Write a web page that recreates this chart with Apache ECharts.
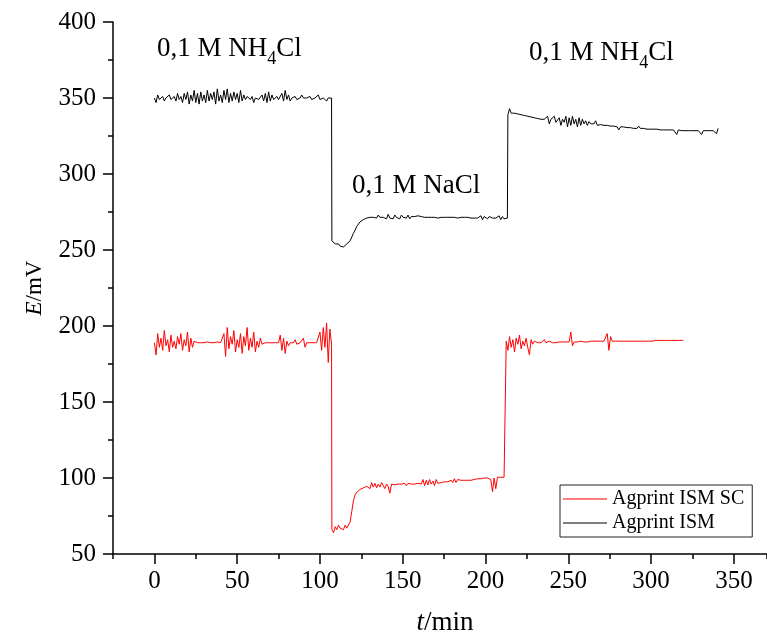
<!DOCTYPE html>
<html>
<head>
<meta charset="utf-8">
<script src="https://cdn.jsdelivr.net/npm/echarts@6/dist/echarts.min.js"></script>
<style>
html,body{margin:0;padding:0;background:#fff;}
#chart{width:767px;height:635px;}
</style>
</head>
<body>
<div id="chart"></div>
<script>
// ---------- DATA ----------
const xTickValues = [0, 50, 100, 150, 200, 250, 300, 350];
const yRange = [50, 400];
const xRange = [-25, 370];

// Agprint ISM (black): segment start times (min), step 1 min, potentials (mV)
const ismSeg1Start = 0;
const ismSeg1 = [
  350,347,352,349,350,351,348,350,350,352,
  349,350,351,348,353,349,351,347,353,349,
  354,346,352,348,355,347,353,346,354,348,
  352,347,355,348,353,349,354,346,356,348,
  352,347,355,349,356,347,353,348,354,349,
  353,347,355,348,352,349,351,350,349,351,
  347,350,351,349,350,352,348,353,347,354,
  348,352,349,350,351,349,350,353,348,355,
  349,352,348,350,350,351,349,350,350,352,
  350,349,350,350,351,349,350,350,350,352,
  349,350,350,351,348,350,351,350
];
const ismSeg2Start = 107.2;
const ismSeg2 = [
  256,255,254,253.5,254,252.5,253,252,253,254,254,
  256,258.5,261,263,265.5,267,268.5,269.5,270,270.5,
  271,271,271.5,271.5,271.5,272,271,273,271.5,272,
  271.5,272,270.5,273.5,271,272,270.5,273,271.5,272.5,
  270.5,273,271.5,272,271,273,270.5,272,271.5,272,
  271,272.5,271.5,272,271.5,271.5,271.5,271.5,271.5,271.5,
  271.5,271.5,271.5,271,271.5,271.5,271,271.5,271.5,271.5,
  271,271.5,271.5,271.5,271.5,271,271.5,271.5,271,271.5,
  271,271.5,271.5,271,271,271,271.5,271,271,272.5,
  270,272,271,270.5,272,271,271,271,271,271,
  272.5,270,272,270.5,271.5,271
];
const ismSeg3Start = 213.5;
const ismSeg3 = [
  339,343,340,340.5,340,339.5,339.5,339,339,338.5,
  338.5,338,338,337.5,337.5,337,337,337,336.5,336.5,
  336,336,336,335.5,338,333,336,335,338,334,
  335,337,332,336,334,338,331,337,332,338,
  333,336,331,337,332,336,333,335,332,334.5,
  333,333,333,335,332,332.5,332.5,332.5,332,332,
  332,332,331.5,331.5,331.5,331.5,331,329,331,331,
  331,330.5,330.5,330.5,330.5,330.5,330,330,330,331.5,
  330,330,330,329.5,329.5,329.5,329.5,329.5,329.5,329.5,
  329.5,329,329,329,329,329,329,329,329,329,
  329,329,326,329,328.5,328.5,328.5,328.5,328.5,328.5,
  328.5,328.5,328.5,328.5,328.5,328.5,328.5,326,328.5,328.5,
  328.5,328.5,328.5,328.5,328.5,328.5,326.5,330
];

// Agprint ISM SC (red)
const scSeg1Start = 0;
const scSeg1 = [
  189,181,195,186,192,184,197,187,191,183,
  194,186,190,185,193,188,195,184,191,187,
  196,183,192,186,190,
  189,189,189.5,189,189,189,189,189.5,189,189,189,189,189,189.5,189,189,189,
  195,180,199,185,193,188,197,183,191,186,195,182,193,187,199,184,192,186,196,183,190,186,192,188,
  189,189,189,189,189.5,189,189,189,189,189,
  194,184,192,182,190,187,
  189,189,189,191,188,189,189,189,192,186,189,189,189,190,189,189,189,189,
  196,184,199,186,202,176,198,188
];
const scSeg2Start = 107.2;
const scSeg2 = [
  66,64,68,66,69,67,68,66,69,67,68,
  71,78,85,89,90.5,91.5,92.5,93,93.5,94,
  94.5,95.5,93,97,94,96.5,93.5,96,94,97,95,93,96,94.5,90,96,95,95.5,
  95.5,96,95.5,96,95.5,96.5,95,96.5,96,96,96.5,96,96.5,96.5,97,
  96,99,95,98.5,95.5,99,96,98,95,99,96.5,97.5,97,97.5,97.5,
  98,97.5,98,98.5,97,99.5,97,99,98,98.5,98,98.5,98.5,98.5,99,98.5,99,99,99,99.5,
  99.5,99.5,99.5,100,99.5,100,101,99,91,100,93,100.5,100.5,100.5,100.5,100.5,101
];
const scSeg3Start = 212.5;
const scSeg3 = [
  190,184,193,186,191,183,192,188,194,185,190,187,192,186,181,191,188,190,
  189,189,189.5,189,188,191,189,189,190,189,189,189.5,189,189,189.5,189,189.5,189,189.5,189.5,189.5,
  196,187,189.5,
  189.5,189.5,189.5,190,189.5,189.5,190,189.5,190,190,189.5,190,190,190,190,190,190,190,190,
  195,184,193,190,
  190,190,190,190,190,190,190,190,190,190,190,190,190,190,190.5,190,190,190,190,190,190.5,190,
  190,190,190.5,190.5,190.5,190.5,190.5,190.5,190.5,190.5,190.5,190.5,190.5,190.5,190.5,190.5,
  190.5,190.5,190.5,190.5,190.5
];

const seriesNames = ['Agprint ISM SC', 'Agprint ISM'];
const annotations = [
  {parts: [['0,1 M NH', 0], ['4', 1], ['Cl', 0]], x: 157, y: 49},
  {parts: [['0,1 M NH', 0], ['4', 1], ['Cl', 0]], x: 529, y: 53},
  {parts: [['0,1 M NaCl', 0]], x: 352, y: 186}
];

// ---------- BUILD ----------
function seg(start, vals) { return vals.map((v, i) => [+(start + i).toFixed(2), v]); }
const ismData = [].concat(seg(ismSeg1Start, ismSeg1), seg(ismSeg2Start, ismSeg2), seg(ismSeg3Start, ismSeg3));
const scData = [].concat(seg(scSeg1Start, scSeg1), seg(scSeg2Start, scSeg2), seg(scSeg3Start, scSeg3));

const FONT = '"Liberation Serif", "Times New Roman", serif';
const mainSize = 27, subSize = 18;
const ctx = document.createElement('canvas').getContext('2d');
function tw(t, s) { ctx.font = s + 'px ' + FONT; return ctx.measureText(t).width; }

const graphics = [];
annotations.forEach(a => {
  let x = a.x;
  a.parts.forEach(([t, isSub]) => {
    const s = isSub ? subSize : mainSize;
    graphics.push({
      type: 'text', z: 100,
      x: x, y: a.y + (isSub ? 10 : 0),
      style: {text: t, font: s + 'px ' + FONT, fill: '#000', align: 'left', verticalAlign: 'middle'}
    });
    x += tw(t, s);
  });
});

const chart = echarts.init(document.getElementById('chart'), null, {renderer: 'canvas'});
const axisColor = '#000';
chart.setOption({
  animation: false,
  backgroundColor: '#fff',
  grid: {left: 113, right: 0, top: 22, bottom: 81, containLabel: false, outerBoundsMode: 'none'},
  legend: {
    data: seriesNames, orient: 'vertical', left: 560, top: 485,
    icon: 'rect', itemWidth: 44, itemHeight: 1.5, itemGap: 2,
    padding: [3, 8, 3, 3],
    borderColor: '#222', borderWidth: 1,
    textStyle: {fontFamily: FONT, fontSize: 20, color: '#000', lineHeight: 22}
  },
  xAxis: [{
    type: 'value', min: xRange[0], max: xRange[1], position: 'bottom',
    name: '{i|t}/min', nameLocation: 'middle', nameGap: 55,
    nameTextStyle: {fontFamily: FONT, fontSize: 27, color: '#000', padding: [0, 0, 0, 10],
      rich: {i: {fontFamily: FONT, fontSize: 27, fontStyle: 'italic', color: '#000'}}},
    axisLine: {show: true, onZero: false, lineStyle: {color: axisColor, width: 1.5}},
    axisTick: {show: true, customValues: xTickValues, length: 10, lineStyle: {color: axisColor, width: 1.5}},
    axisLabel: {show: true, customValues: xTickValues, fontFamily: FONT, fontSize: 25, color: '#000', margin: 15},
    splitLine: {show: false}
  }, {
    type: 'value', min: xRange[0], max: xRange[1], interval: 25, position: 'bottom', offset: 0,
    axisLine: {show: false, onZero: false},
    axisTick: {show: true, length: 5, lineStyle: {color: axisColor, width: 1.5}},
    axisLabel: {show: false},
    splitLine: {show: false}
  }],
  yAxis: {
    type: 'value', min: yRange[0], max: yRange[1], interval: 50,
    name: '{i|E}/mV', nameLocation: 'middle', nameGap: 67, nameRotate: 90,
    nameTextStyle: {fontFamily: FONT, fontSize: 23, color: '#000',
      rich: {i: {fontFamily: FONT, fontSize: 23, fontStyle: 'italic', color: '#000'}}},
    axisLine: {show: true, onZero: false, lineStyle: {color: axisColor, width: 1.5}},
    axisTick: {show: true, length: 10, lineStyle: {color: axisColor, width: 1.5}},
    minorTick: {show: true, splitNumber: 2, length: 5, lineStyle: {color: axisColor, width: 1.5}},
    axisLabel: {fontFamily: FONT, fontSize: 25, color: '#000', margin: 17},
    splitLine: {show: false}, minorSplitLine: {show: false}
  },
  series: [
    {name: seriesNames[1], type: 'line', data: ismData, symbol: 'none', showSymbol: false,
      sampling: null, lineStyle: {color: '#000', width: 1}, itemStyle: {color: '#555'}, z: 2},
    {name: seriesNames[0], type: 'line', data: scData, symbol: 'none', showSymbol: false,
      sampling: null, lineStyle: {color: '#ff0000', width: 1}, itemStyle: {color: '#ff5050'}, z: 3}
  ],
  graphic: graphics
});
</script>
</body>
</html>
